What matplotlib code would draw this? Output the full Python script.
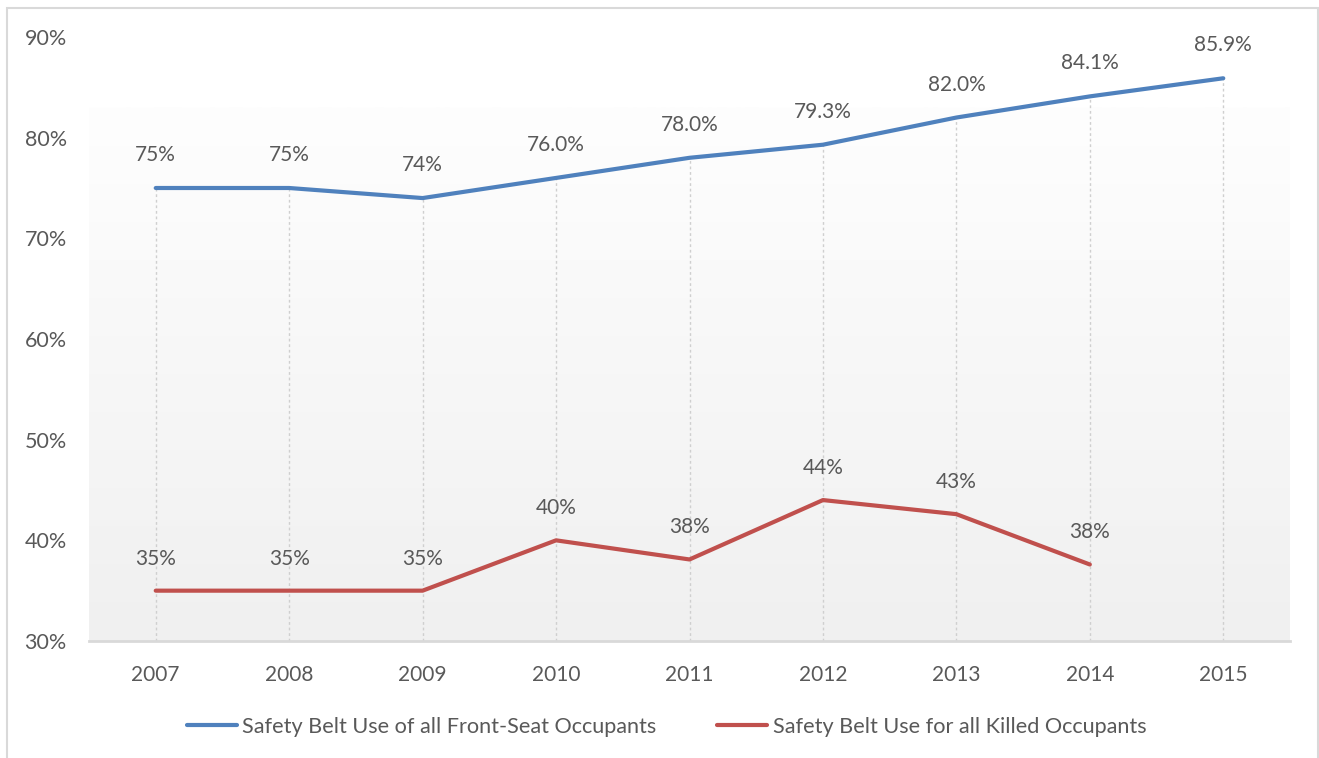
import matplotlib.pyplot as plt
import numpy as np
from matplotlib.patches import Rectangle

plt.rcParams['font.family'] = ['Lato', 'DejaVu Sans']

years = ['2007', '2008', '2009', '2010', '2011', '2012', '2013', '2014', '2015']
front_seat = [75, 75, 74, 76.0, 78.0, 79.3, 82.0, 84.1, 85.9]
front_dec = [0, 0, 0, 1, 1, 1, 1, 1, 1]
killed = [35, 35, 35, 40, 38.1, 44, 42.6, 37.6]
killed_dec = [0, 0, 0, 0, 0, 0, 0, 0]

blue = '#4f81bd'
red = '#c0504d'
txt = '#595959'

fig = plt.figure(figsize=(13.19, 7.58), dpi=100)
ax = fig.add_axes([89 / 1319, 1 - 641 / 758, 1201 / 1319, 604 / 758])

# outer chart frame
fig.patches.append(Rectangle((6.5 / 1319, -0.1), 1311 / 1319, 1.1 - 8 / 758,
                             transform=fig.transFigure, fill=False,
                             edgecolor='#d9d9d9', lw=1.5))

# plot area gradient
grad = np.linspace(0, 1, 256).reshape(-1, 1)
ax.imshow(grad, cmap=plt.matplotlib.colors.LinearSegmentedColormap.from_list(
    'g', ['#f0f0f0', '#fefefe']), origin='lower', aspect='auto',
    extent=(0, 1, 0, 0.884), transform=ax.transAxes, zorder=0)

x = np.arange(len(years))
xk = np.arange(len(killed))

# drop lines from the top series down to the axis
ax.vlines(x, 30, front_seat, colors='#cfcfcf', linestyles=(0, (2, 2)), lw=1, zorder=1)

ax.plot(x, front_seat, color=blue, lw=3, solid_capstyle='round', zorder=3,
        label='Safety Belt Use of all Front-Seat Occupants')
ax.plot(xk, killed, color=red, lw=3, solid_capstyle='round', zorder=3,
        label='Safety Belt Use for all Killed Occupants')

for xi, v, d in zip(x, front_seat, front_dec):
    ax.annotate(f'{v:.{d}f}%', (xi, v), xytext=(0, 33), textcoords='offset pixels',
                ha='center', va='center', fontsize=15, color=txt)
for xi, v, d in zip(xk, killed, killed_dec):
    ax.annotate(f'{v:.{d}f}%', (xi, v), xytext=(0, 32), textcoords='offset pixels',
                ha='center', va='center', fontsize=15, color=txt)

ax.set_xlim(-0.5, len(years) - 0.5)
ax.set_ylim(30, 90)
ax.set_xticks(x)
ax.set_xticklabels(years)
ax.set_yticks(range(30, 91, 10))
ax.set_yticklabels([f'{t}%' for t in range(30, 91, 10)])
ax.tick_params(length=0, labelsize=15, labelcolor=txt)
ax.tick_params(axis='x', pad=17)
ax.tick_params(axis='y', pad=16, labelsize=15.5)
for s in ['top', 'right', 'left']:
    ax.spines[s].set_visible(False)
ax.spines['bottom'].set_color('#d9d9d9')
ax.spines['bottom'].set_linewidth(2)
ax.set_facecolor('none')

ax.legend(loc='center', bbox_to_anchor=(0.481, -0.142), ncol=2, frameon=False,
          fontsize=15.6, labelcolor=txt, handlelength=2.3, handletextpad=0.25,
          columnspacing=2.8)

fig.savefig('out.png', dpi=100)
